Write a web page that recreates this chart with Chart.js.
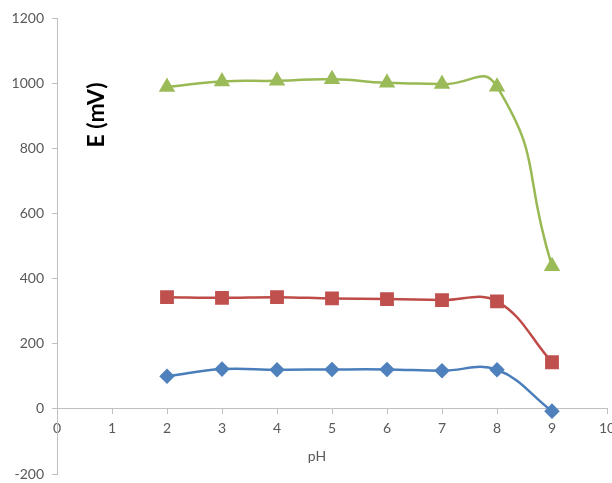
<!DOCTYPE html>
<html>
<head>
<meta charset="utf-8">
<script src="https://cdn.jsdelivr.net/npm/chart.js@4"></script>
<style>
html,body{margin:0;padding:0;background:#fff;}
</style>
</head>
<body>
<canvas id="c" width="612" height="483"></canvas>
<script>
// pH categories (x values)
const phValues = [2, 3, 4, 5, 6, 7, 8, 9];
// series values (mV)
const seriesBlue  = [100, 122, 120, 121, 121, 117, 120, -7];
const seriesRed   = [343, 341, 343, 339, 337, 334, 330, 143];
const seriesGreen = [988, 1005, 1007, 1012, 1001, 997, 989, 438];
// axis tick settings
const xTicks = {min: 0, max: 10, step: 1};
const yTicks = {min: -200, max: 1200, step: 200};
const yTitle = 'E (mV)';
const xTitle = 'pH';

const toPoints = vals => phValues.map((x, i) => ({x: x, y: vals[i]}));

const textPlugin = {
  id: 'axisTexts',
  afterDraw(chart) {
    const ctx = chart.ctx;
    const a = chart.chartArea;
    ctx.save();
    ctx.fillStyle = '#000';
    ctx.font = 'bold 23px Lato';
    ctx.textAlign = 'center';
    ctx.textBaseline = 'middle';
    ctx.translate(a.left + 40, a.top + 97);
    ctx.rotate(-Math.PI / 2);
    ctx.fillText(yTitle, 0, 0);
    ctx.restore();
    ctx.save();
    ctx.fillStyle = '#595959';
    ctx.font = '14px Lato';
    ctx.textAlign = 'center';
    ctx.textBaseline = 'middle';
    ctx.fillText(xTitle, 317, 456);
    ctx.restore();
  }
};

const fmt = v => String(v);

new Chart(document.getElementById('c'), {
  type: 'line',
  data: {
    datasets: [
      {
        data: toPoints(seriesBlue),
        borderColor: '#4A7EBB', backgroundColor: '#4F81BD',
        pointBackgroundColor: '#4F81BD', pointBorderColor: '#4F81BD',
        pointStyle: 'rectRot', pointRadius: 6, borderWidth: 2.5, tension: 0.4, fill: false
      },
      {
        data: toPoints(seriesRed),
        borderColor: '#BE4B48', backgroundColor: '#C0504D',
        pointBackgroundColor: '#C0504D', pointBorderColor: '#C0504D',
        pointStyle: 'rect', pointRadius: 8, borderWidth: 2.5, tension: 0.4, fill: false
      },
      {
        data: toPoints(seriesGreen),
        borderColor: '#98B954', backgroundColor: '#9BBB59',
        pointBackgroundColor: '#9BBB59', pointBorderColor: '#9BBB59',
        pointStyle: 'triangle', pointRadius: 7, borderWidth: 2.5, tension: 0.55, fill: false
      }
    ]
  },
  options: {
    responsive: false,
    animation: false,
    devicePixelRatio: 1,
    layout: {autoPadding: false, padding: {left: 0, right: 5, top: 18, bottom: 9}},
    plugins: {legend: {display: false}, tooltip: {enabled: false}},
    scales: {
      x: {
        type: 'linear',
        position: {y: 0},
        min: xTicks.min, max: xTicks.max,
        ticks: {stepSize: xTicks.step, color: '#595959', font: {family: 'Lato', size: 14}, padding: 6, autoSkip: false, maxRotation: 0, callback: fmt},
        grid: {drawOnChartArea: false, drawTicks: true, tickLength: 5, color: '#BFBFBF'},
        border: {display: true, color: '#BFBFBF', width: 1},
        afterFit(s) { s.height = 0; s.paddingLeft = 0; s.paddingRight = 0; }
      },
      y: {
        type: 'linear',
        position: 'left',
        min: yTicks.min, max: yTicks.max,
        ticks: {stepSize: yTicks.step, color: '#595959', font: {family: 'Lato', size: 14}, padding: 8, callback: fmt},
        grid: {drawOnChartArea: false, drawTicks: true, tickLength: 5, color: '#BFBFBF'},
        border: {display: true, color: '#BFBFBF', width: 1},
        afterFit(s) { s.width = 57; s.paddingTop = 0; s.paddingBottom = 0; }
      }
    }
  },
  plugins: [textPlugin]
});
</script>
</body>
</html>
